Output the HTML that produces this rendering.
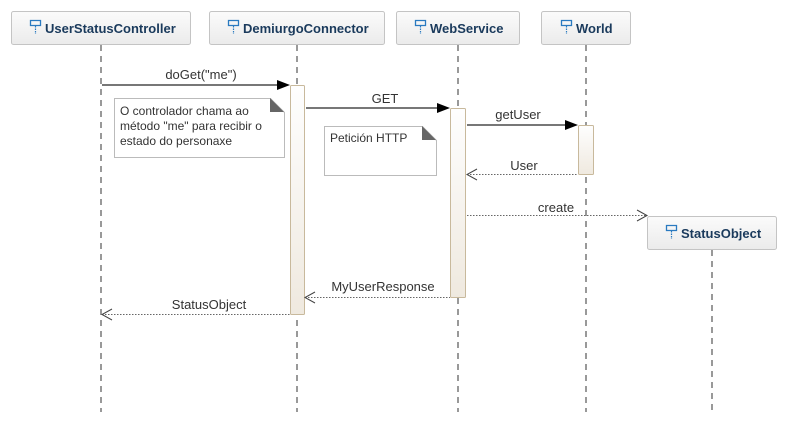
<!DOCTYPE html>
<html><head><meta charset="utf-8"><style>
html,body{margin:0;padding:0;background:#fff;}
svg{display:block;font-family:"Liberation Sans",Arial,sans-serif;}
</style></head><body>
<svg width="811" height="436" viewBox="0 0 811 436" xmlns="http://www.w3.org/2000/svg">
<defs>
<linearGradient id="hg" x1="0" y1="0" x2="0" y2="1"><stop offset="0" stop-color="#fbfbfb"/><stop offset="1" stop-color="#ebebeb"/></linearGradient>
<linearGradient id="ag" x1="0" y1="0" x2="0" y2="1"><stop offset="0" stop-color="#fefefe"/><stop offset="1" stop-color="#efe9df"/></linearGradient>
<g id="ic"><path d="M0.5 0.5h10v5h-10z" fill="none" stroke="#2a7ac0" stroke-width="1.3"/><path d="M5.5 6v8" stroke="#2a7ac0" stroke-width="1.2" stroke-dasharray="1.5,1"/></g>
</defs>
<g stroke="#999" stroke-width="2" stroke-dasharray="6,5">
<line x1="101" y1="45" x2="101" y2="412"/>
<line x1="297" y1="45" x2="297" y2="412"/>
<line x1="458" y1="45" x2="458" y2="412"/>
<line x1="586" y1="45" x2="586" y2="412"/>
<line x1="712" y1="250" x2="712" y2="412"/>
</g>
<g stroke="#c4c4c4" fill="url(#hg)">
<rect x="11.5" y="11.5" width="179" height="33" rx="2"/>
<rect x="209.5" y="11.5" width="175" height="33" rx="2"/>
<rect x="396.5" y="11.5" width="123" height="33" rx="2"/>
<rect x="541.5" y="11.5" width="89" height="33" rx="2"/>
<rect x="647.5" y="216.5" width="129" height="33" rx="2"/>
</g>
<g font-weight="bold" font-size="13" fill="#1a3a5c">
<use href="#ic" x="30" y="20"/><text x="45" y="33">UserStatusController</text>
<use href="#ic" x="228" y="20"/><text x="243" y="33">DemiurgoConnector</text>
<use href="#ic" x="415" y="20"/><text x="430" y="33">WebService</text>
<use href="#ic" x="561" y="20"/><text x="576" y="33">World</text>
<use href="#ic" x="666" y="225"/><text x="681" y="238">StatusObject</text>
</g>
<g stroke="#c8b99c" fill="url(#ag)">
<rect x="290.5" y="85.5" width="14" height="229" rx="1"/>
<rect x="450.5" y="108.5" width="15" height="189" rx="1"/>
<rect x="578.5" y="125.5" width="15" height="49" rx="1"/>
</g>
<g stroke="#bbb" fill="#fff">
<path d="M114.5 98.5h156l14 14v45h-170z"/>
<path d="M324.5 126.5h98l14 14v35h-112z"/>
</g>
<path d="M270 98l14 14h-14z" fill="#666"/>
<path d="M422 126l14 14h-14z" fill="#666"/>
<g font-size="12" fill="#333">
<text x="120" y="115">O controlador chama ao</text>
<text x="120" y="130">método "me" para recibir o</text>
<text x="120" y="145">estado do personaxe</text>
<text x="330" y="142">Petición HTTP</text>
</g>
<g stroke="#777" stroke-width="2">
<line x1="102" y1="85" x2="278" y2="85"/>
<line x1="306" y1="108" x2="438" y2="108"/>
<line x1="467" y1="125" x2="566" y2="125"/>
</g>
<g fill="#000">
<path d="M277 80l13 5-13 5z"/>
<path d="M437 103l13 5-13 5z"/>
<path d="M565 120l13 5-13 5z"/>
</g>
<g stroke="#666" stroke-width="1" stroke-dasharray="1.5,1.5" fill="none">
<line x1="467" y1="174.5" x2="578" y2="174.5"/>
<line x1="467" y1="215.5" x2="646" y2="215.5"/>
<line x1="305" y1="297.5" x2="450" y2="297.5"/>
<line x1="102" y1="314.5" x2="290" y2="314.5"/>
</g>
<g stroke="#444" stroke-width="1" fill="none">
<path d="M477 169l-10 5.5 10 5.5"/>
<path d="M637 210l10 5.5-10 5.5"/>
<path d="M315 292l-10 5.5 10 5.5"/>
<path d="M112 309l-10 5.5 10 5.5"/>
</g>
<g font-size="13" fill="#333" text-anchor="middle">
<text x="201" y="79">doGet("me")</text>
<text x="385" y="103">GET</text>
<text x="518" y="119">getUser</text>
<text x="524" y="170">User</text>
<text x="556" y="212">create</text>
<text x="383" y="291">MyUserResponse</text>
<text x="209" y="309">StatusObject</text>
</g>
</svg>
</body></html>
